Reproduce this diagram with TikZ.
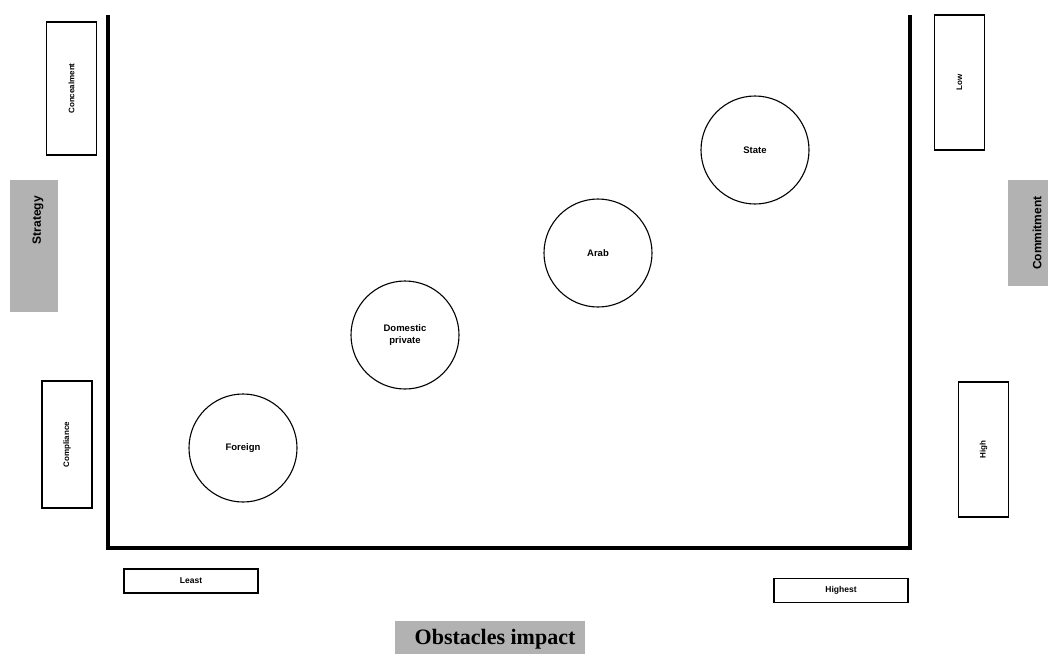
\documentclass[tikz,border=0pt]{standalone}
\usepackage{fontspec}
\setmainfont{Liberation Sans}
\newfontfamily\serifbf{Liberation Serif}
\begin{document}
\begin{tikzpicture}[x=1pt,y=-1pt,
  axis/.style={line width=4pt},
  lbox/.style={draw,line width=1.3pt,minimum height=50pt,inner sep=0pt,font=\bfseries\fontsize{8}{9}\selectfont},
  hbox/.style={draw,line width=1.3pt,minimum width=134pt,minimum height=24pt,inner sep=0pt,font=\bfseries\fontsize{8.5}{10}\selectfont},
  grp/.style={circle,draw,line width=1.1pt,minimum size=108pt,inner sep=0pt,align=center,font=\bfseries\fontsize{9.5}{12}\selectfont},
  stip/.style={fill=black!30,inner sep=0pt}
]
\useasboundingbox (0,0) rectangle (1048,653);
% axes
\coordinate (tl) at (108,15);
\coordinate (bl) at (108,548);
\coordinate (br) at (910,548);
\coordinate (tr) at (910,15);
\draw[axis] (tl) -- (bl) -- (br) -- (tr);
% left boxes
\node[lbox,minimum width=133pt,rotate=90] (conc) at (71.5,88.5) {Concealment};
\node[lbox,minimum width=127pt,rotate=90] (comp) at (67,444.5) {Compliance};
% right boxes
\node[lbox,minimum width=135pt,rotate=90] (low) at (959.5,82.5) {Low};
\node[lbox,minimum width=135pt,rotate=90] (high) at (983.5,449.5) {High};
% bottom boxes
\node[hbox] (least) at (191,581) {Least};
\node[hbox] (highest) at (841,590.5) {Highest};
% stippled labels
\node[stip,minimum width=48pt,minimum height=132pt] (strbg) at (34,246) {};
\node[rotate=90,font=\bfseries\fontsize{12}{13}\selectfont] (str) at (38,220) {Strategy};
\node[stip,minimum width=40pt,minimum height=106pt] (combg) at (1028,233) {};
\node[rotate=90,font=\bfseries\fontsize{12}{13}\selectfont] (com) at (1037,233) {Commitment};
\node[stip,minimum width=190pt,minimum height=33pt] (obsbg) at (490,637) {};
\node[font=\serifbf\bfseries\fontsize{22}{24}\selectfont] (obs) at (495,639) {Obstacles impact};
% circles
\node[grp] (state) at (755,150) {State};
\node[grp] (arab) at (598,253) {Arab};
\node[grp] (dom) at (405,335) {Domestic\\private};
\node[grp] (for) at (243,448) {Foreign};
\end{tikzpicture}
\end{document}
